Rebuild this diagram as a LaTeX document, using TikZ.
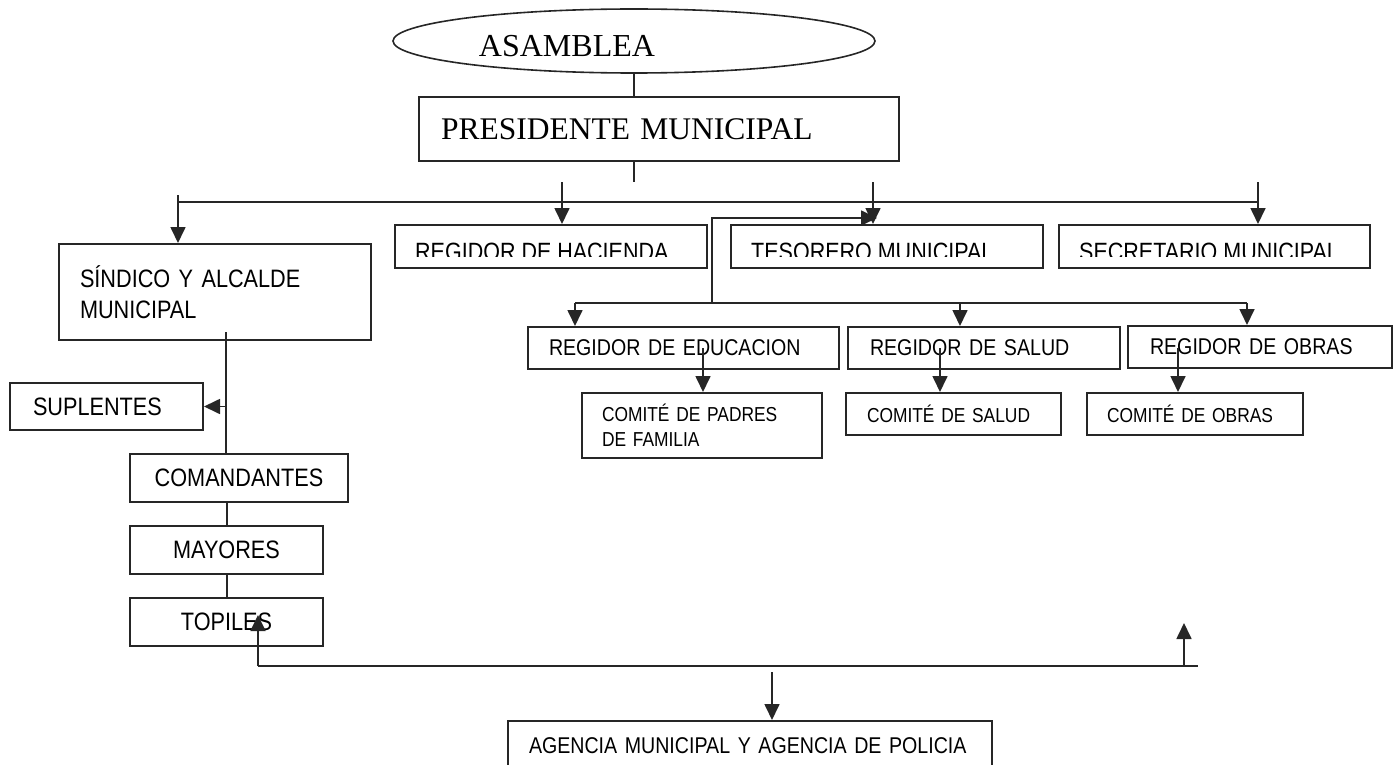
\documentclass[tikz,border=0pt]{standalone}
\usepackage{fontspec}
\setmainfont{Liberation Serif}
\newfontfamily\boxfont[FakeStretch=0.86]{Liberation Sans}
\usetikzlibrary{positioning,calc,shapes.geometric,arrows.meta}

\tikzset{
  orgbox/.style={draw=black!85,line width=2pt,rectangle,anchor=north west,inner ysep=0pt,align=left},
  ln/.style={draw=black!85,line width=2pt},
  arr/.style={ln,line width=1.7pt,-{Triangle[length=16pt,width=15pt]}},
  bigtxt/.style={font={\boxfont\fontsize{25.2}{31}\selectfont}},
  regtxt/.style={font={\boxfont\fontsize{22.8}{27}\selectfont}},
  comtxt/.style={font={\boxfont\fontsize{20.2}{25}\selectfont}}
}

\begin{document}
\begin{tikzpicture}[x=1pt,y=-1pt]
\useasboundingbox (0,0) rectangle (1395,765);

% asamblea y presidente
\node[ellipse,draw=black!85,line width=1.6pt,minimum width=482pt,minimum height=64pt,inner sep=0pt,
  label={[name=asambleatxt,xshift=-67pt,yshift=-5pt,font=\fontsize{32}{36}\selectfont]center:ASAMBLEA}] (asamblea) at (634,41) {};
\node[orgbox,inner xsep=22pt,text width=436pt,minimum height=64pt,font=\fontsize{31.5}{36}\selectfont] (presidente) at (418,96) {PRESIDENTE MUNICIPAL};
\draw[ln] (asamblea.south) -- (asamblea.south |- presidente.north);
\coordinate (stemend) at (634,182);
\draw[ln] (stemend |- presidente.south) -- (stemend);

% linea principal
\coordinate (busL) at (178,202);
\coordinate (busR) at (1258,202);
\draw[ln] (busL) -- (busR);

\foreach \nm/\x/\w/\ax/\txt in {hacienda/394/312/562/REGIDOR DE HACIENDA,tesorero/730/312/873/TESORERO MUNICIPAL,secretario/1058/311/1258/SECRETARIO MUNICIPAL}{
  \node[orgbox,minimum width=\w pt,minimum height=43pt,inner xsep=0pt] (\nm) at (\x,224) {};
  \begin{scope}
    \clip (\nm.north west) rectangle ([yshift=13pt]\nm.south east);
    \node[anchor=base west,inner sep=0pt,font={\boxfont\fontsize{25}{30}\selectfont}] (\nm-txt) at (\x+21,260) {\txt};
  \end{scope}
  \draw[arr] (\ax,182) -- (\ax,0 |- \nm.north);
}

% sindico
\node[orgbox,bigtxt,inner xsep=21pt,text width=270pt,minimum height=96pt] (sindico) at (58,243) {SÍNDICO Y ALCALDE\\MUNICIPAL};
\draw[arr] ([yshift=7pt]busL) -- (busL |- sindico.north);

% regidores
\node[orgbox,regtxt,inner xsep=21pt,text width=269pt,minimum height=42pt] (educ) at (527,326) {REGIDOR DE EDUCACION};
\node[orgbox,regtxt,inner xsep=22pt,text width=228pt,minimum height=42pt] (salud) at (847,326) {REGIDOR DE SALUD};
\node[orgbox,regtxt,inner xsep=22pt,text width=220pt,minimum height=42pt] (obras) at (1127,325) {REGIDOR DE OBRAS};

\coordinate (lowsplit) at (712,303);
\coordinate (tesin) at (877,218);
\draw[arr] (lowsplit) |- (tesin);
\coordinate (lowL) at (575,303);
\coordinate (lowR) at (1247,303);
\draw[ln] (lowL) -- (lowR);
\draw[arr] (lowL) -- (lowL |- educ.north);
\draw[arr] (960,303) -- (960,0 |- salud.north);
\draw[arr] (lowR) -- (lowR |- obras.north);

% comites
\node[orgbox,comtxt,inner xsep=20pt,text width=200pt,minimum height=65pt] (padres) at (581,392) {COMITÉ DE PADRES\\DE FAMILIA};
\node[orgbox,comtxt,inner xsep=21pt,text width=173pt,minimum height=42pt] (csalud) at (845,392) {COMITÉ DE SALUD};
\node[orgbox,comtxt,inner xsep=20pt,text width=176pt,minimum height=42pt] (cobras) at (1086,392) {COMITÉ DE OBRAS};
\draw[arr] (703,348) -- (703,0 |- padres.north);
\draw[arr] (940,348) -- (940,0 |- csalud.north);
\draw[arr] (1178,348) -- (1178,0 |- cobras.north);

% columna izquierda
\node[orgbox,bigtxt,inner xsep=23pt,text width=147pt,minimum height=47pt] (suplentes) at (9,382) {SUPLENTES};
\node[orgbox,bigtxt,align=center,inner xsep=10pt,text width=198pt,minimum height=48pt] (comandantes) at (129,453) {COMANDANTES};
\node[orgbox,bigtxt,align=center,inner xsep=10pt,text width=173pt,minimum height=48pt] (mayores) at (129,525) {MAYORES};
\node[orgbox,bigtxt,align=center,inner xsep=10pt,text width=173pt,minimum height=48pt] (topiles) at (129,597) {TOPILES};

\coordinate (sindstem) at (226,332);
\draw[ln] (sindstem) -- (sindstem |- comandantes.north);
\draw[arr] (sindstem |- suplentes.east) -- (suplentes.east);
\draw[ln] (comandantes.south -| mayores.north) -- (mayores.north);
\draw[ln] (mayores.south) -- (topiles.north);

% agencias
\coordinate (botL) at (258,666);
\coordinate (botR) at (1198,666);
\coordinate (topin) at (258,615);
\coordinate (upR) at (1184,623);
\draw[ln] (botL) -- (botR);
\draw[arr] (botL) -- (topin);
\draw[arr] (upR |- botL) -- (upR);
\node[orgbox,regtxt,inner xsep=21pt,text width=442pt,minimum height=50pt] (agencia) at (507,720) {\mbox{AGENCIA MUNICIPAL Y AGENCIA DE POLICIA}};
\draw[arr] (772,672) -- (772,0 |- agencia.north);
\end{tikzpicture}
\end{document}
